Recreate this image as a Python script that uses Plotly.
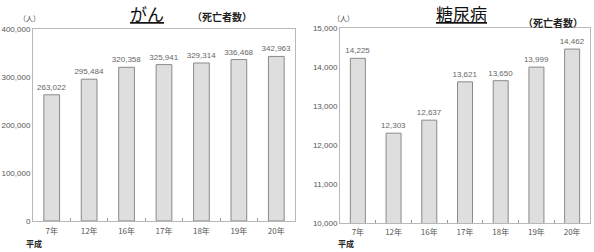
import plotly.graph_objects as go

categories = ["7年", "12年", "16年", "17年", "18年", "19年", "20年"]
cancer_deaths = [263022, 295484, 320358, 325941, 329314, 336468, 342963]
diabetes_deaths = [14225, 12303, 12637, 13621, 13650, 13999, 14462]
cancer_ticks = [0, 100000, 200000, 300000, 400000]
diabetes_ticks = [10000, 11000, 12000, 13000, 14000, 15000]

W, H = 594, 252
NUM_FONT = "Liberation Sans"
JP_FONT = "Noto Sans CJK JP"

fig = go.Figure()

bar_style = dict(
    marker=dict(color="#dedede", line=dict(color="#8a8a8a", width=1)),
    width=0.42,
    textposition="outside",
    texttemplate="%{y:,}",
    textfont=dict(family=NUM_FONT, size=8, color="#666"),
    constraintext="none",
    cliponaxis=False,
    showlegend=False,
)

fig.add_trace(go.Bar(x=categories, y=cancer_deaths, xaxis="x", yaxis="y", **bar_style))
fig.add_trace(go.Bar(x=categories, y=diabetes_deaths, xaxis="x2", yaxis="y2", **bar_style))

def px_x(p):
    return p / W

def px_y(p):
    return 1 - p / H

axis_common = dict(
    showline=True, mirror=True, linecolor="#b8b8b8", linewidth=1,
    showgrid=False, zeroline=False,
    tickfont=dict(family=NUM_FONT, size=8, color="#555"),
)

xaxis_common = dict(
    ticks="inside", ticklen=3, tickcolor="#999", tickson="boundaries",
    ticklabelstandoff=2,
    tickfont=dict(family=JP_FONT, size=8, color="#555"),
    showline=True, mirror=True, linecolor="#b8b8b8", showgrid=False,
)

fig.update_layout(
    width=W, height=H,
    margin=dict(l=0, r=0, t=0, b=0),
    paper_bgcolor="white", plot_bgcolor="white",
    xaxis=dict(domain=[px_x(33), px_x(295)], anchor="y", **xaxis_common),
    yaxis=dict(domain=[px_y(225), px_y(26)], anchor="x", range=[0, 400000],
               tickvals=cancer_ticks, tickformat=",d", ticks="", **axis_common),
    xaxis2=dict(domain=[px_x(340), px_x(590)], anchor="y2", **xaxis_common),
    yaxis2=dict(domain=[px_y(227), px_y(25)], anchor="x2", range=[10000, 15000],
                tickvals=diabetes_ticks, tickformat=",d", ticks="", **axis_common),
)

def ann(x, y, text, size, color="#222", bold=False, xanchor="center"):
    fig.add_annotation(
        x=px_x(x), y=px_y(y), xref="paper", yref="paper",
        text=f"<b>{text}</b>" if bold else text,
        showarrow=False, xanchor=xanchor, yanchor="middle",
        font=dict(family=JP_FONT, size=size, color=color),
    )

ann(147, 10, "<u>がん</u>", 17, "#111")
ann(222, 13, "（死亡者数）", 10, "#222", bold=True)
ann(29, 15, "（人）", 7, "#444")
ann(34, 248, "平成", 8, "#222", bold=True)

ann(461, 10, "<u>糖尿病</u>", 17, "#111")
ann(553, 19, "（死亡者数）", 10, "#222", bold=True)
ann(343, 15, "（人）", 7, "#444")
ann(346, 248, "平成", 8, "#222", bold=True)

fig.write_html("out.html")
